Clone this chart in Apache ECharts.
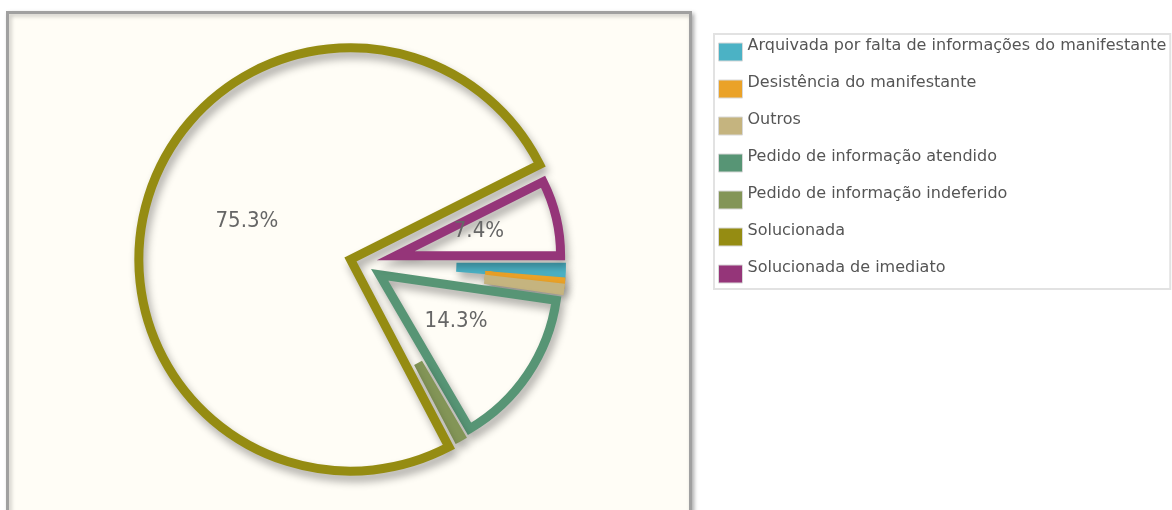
<!DOCTYPE html>
<html>
<head>
<meta charset="utf-8">
<script src="https://cdn.jsdelivr.net/npm/echarts@6/dist/echarts.min.js"></script>
<style>
  html, body { margin: 0; padding: 0; background: #ffffff; }
  #chart { width: 1172px; height: 510px; }
</style>
</head>
<body>
<div id="chart"></div>
<script>
const categories = [
  'Arquivada por falta de informações do manifestante',
  'Desistência do manifestante',
  'Outros',
  'Pedido de informação atendido',
  'Pedido de informação indeferido',
  'Solucionada',
  'Solucionada de imediato'
];
const values = [1.3, 0.5, 0.5, 14.3, 0.7, 75.3, 7.4];
const colors = ['#4bb2c5', '#eaa228', '#c5b47f', '#579575', '#839557', '#958c12', '#953579'];

// styling / layout (jqPlot-like pie with slice margins, unfilled slices)
const CENTER = [363, 263.5];
const R = 198.5;
const SM = 19;          // slice margin + line width
const LINE_W = 9;
const LABEL_FONT = 'DejaVu Sans Condensed, DejaVu Sans, sans-serif';
const LEGEND_FONT = 'DejaVu Sans, sans-serif';

const total = values.reduce((a, b) => a + b, 0);
function rPrime(v) {
  const a = v / total * Math.PI * 2;
  if (a <= 0.01 || a >= 6.282) return 0;
  return SM / 2 / Math.sin((a - (a - Math.PI) / 8 / Math.PI) / 2);
}

const hiddenStyle = {
  color: 'rgba(0,0,0,0)', borderWidth: 0, borderColor: 'rgba(0,0,0,0)',
  shadowBlur: 0, shadowColor: 'rgba(0,0,0,0)'
};

const series = categories.map((name, i) => {
  const ang = values[i] / total * Math.PI * 2;
  const rp = rPrime(values[i]);
  const radius = ang <= Math.PI ? R - rp : R + rp;
  const visStyle = {
    color: 'rgba(0,0,0,0)',
    borderColor: colors[i],
    borderWidth: LINE_W,
    borderJoin: 'miter',
    borderMiterLimit: 10,
    shadowColor: 'rgba(0,0,0,0.33)',
    shadowBlur: 8,
    shadowOffsetX: 3,
    shadowOffsetY: 6
  };
  const showLabel = values[i] / total * 100 >= 3;
  return {
    type: 'pie',
    name: 's' + i,
    center: CENTER,
    radius: [0, radius],
    startAngle: 0,
    clockwise: true,
    selectedMode: 'multiple',
    selectedOffset: rp,
    avoidLabelOverlap: false,
    animation: false,
    silent: true,
    emphasis: { disabled: true },
    data: categories.map((n, j) => {
      if (j !== i) {
        return {
          name: n, value: values[j],
          itemStyle: hiddenStyle,
          select: { itemStyle: hiddenStyle },
          label: { show: false }, labelLine: { show: false }
        };
      }
      return {
        name: n, value: values[j], selected: true,
        itemStyle: visStyle,
        select: { itemStyle: visStyle, label: { show: showLabel } },
        label: {
          show: showLabel,
          position: 'inside',
          formatter: p => '{t|' + p.percent.toFixed(1) + '%}',
          rich: {
            t: { color: '#666666', fontFamily: LABEL_FONT, fontSize: 22, padding: [0, 0, 10, 0] }
          }
        },
        labelLine: { show: false }
      };
    })
  };
});

const chart = echarts.init(document.getElementById('chart'), null, { renderer: 'canvas' });
chart.setOption({
  animation: false,
  backgroundColor: '#ffffff',
  graphic: [{
    type: 'rect',
    z: -10,
    silent: true,
    shape: { x: 7.5, y: 12.5, width: 683, height: 520 },
    style: {
      fill: '#fffdf6', stroke: '#a0a0a0', lineWidth: 3,
      shadowBlur: 4, shadowOffsetX: 2, shadowOffsetY: 2, shadowColor: 'rgba(0,0,0,0.25)'
    }
  }],
  legend: {
    orient: 'vertical',
    left: 714,
    top: 34,
    padding: [4, 4, 1, 4],
    backgroundColor: '#ffffff',
    borderColor: '#e2e2e2',
    borderWidth: 2,
    icon: 'rect',
    itemWidth: 24,
    itemHeight: 18,
    itemGap: 9,
    selectedMode: false,
    formatter: n => '{t|' + n + '}',
    textStyle: {
      color: '#555555', fontFamily: LEGEND_FONT, fontSize: 16,
      rich: { t: { color: '#555555', fontFamily: LEGEND_FONT, fontSize: 16, lineHeight: 12, padding: [0, 0, 12, 0] } }
    },
    data: categories.map((n, i) => ({
      name: n,
      itemStyle: { color: colors[i], borderColor: '#d8d8d8', borderWidth: 1 }
    }))
  },
  series: series
});
</script>
</body>
</html>
